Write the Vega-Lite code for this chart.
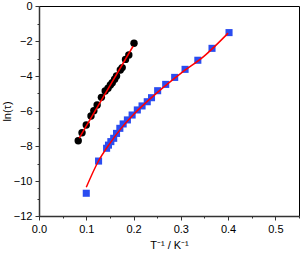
{
  "$schema": "https://vega.github.io/schema/vega-lite/v6.json",
  "autosize": "none",
  "width": 260,
  "height": 210,
  "padding": {"left": 39, "top": 6, "right": 3, "bottom": 39},
  "config": {
    "view": {"stroke": "#000", "strokeWidth": 1},
    "font": "Liberation Sans",
    "axis": {
      "grid": false,
      "domainColor": "#333",
      "domainWidth": 1.5,
      "tickColor": "#333",
      "labelFont": "Liberation Sans",
      "labelFontSize": 11,
      "labelColor": "#000",
      "titleFont": "Liberation Sans",
      "titleFontSize": 11,
      "titleFontWeight": "normal",
      "titleColor": "#000"
    }
  },
  "datasets": {
    "black": [
      {"x": 0.083, "y": -7.7},
      {"x": 0.091, "y": -7.24},
      {"x": 0.100, "y": -6.8},
      {"x": 0.110, "y": -6.29},
      {"x": 0.116, "y": -5.98},
      {"x": 0.123, "y": -5.66},
      {"x": 0.132, "y": -5.22},
      {"x": 0.140, "y": -4.86},
      {"x": 0.146, "y": -4.70},
      {"x": 0.151, "y": -4.51},
      {"x": 0.155, "y": -4.38},
      {"x": 0.160, "y": -4.19},
      {"x": 0.164, "y": -4.0},
      {"x": 0.172, "y": -3.66},
      {"x": 0.176, "y": -3.52},
      {"x": 0.183, "y": -3.05},
      {"x": 0.190, "y": -2.8},
      {"x": 0.201, "y": -2.13}
    ],
    "blue": [
      {"x": 0.100, "y": -10.7},
      {"x": 0.126, "y": -8.86},
      {"x": 0.143, "y": -8.13},
      {"x": 0.147, "y": -7.95},
      {"x": 0.152, "y": -7.75},
      {"x": 0.158, "y": -7.56},
      {"x": 0.164, "y": -7.28},
      {"x": 0.171, "y": -6.99},
      {"x": 0.178, "y": -6.74},
      {"x": 0.187, "y": -6.51},
      {"x": 0.197, "y": -6.23},
      {"x": 0.208, "y": -5.94},
      {"x": 0.218, "y": -5.71},
      {"x": 0.229, "y": -5.47},
      {"x": 0.238, "y": -5.24},
      {"x": 0.251, "y": -4.84},
      {"x": 0.268, "y": -4.48},
      {"x": 0.287, "y": -4.08},
      {"x": 0.309, "y": -3.62},
      {"x": 0.336, "y": -3.10},
      {"x": 0.366, "y": -2.42},
      {"x": 0.402, "y": -1.52}
    ],
    "fitBlack": [
      {"x": 0.085, "y": -7.55},
      {"x": 0.199, "y": -2.3}
    ],
    "fitBlue": [
      {"x": 0.100, "y": -10.36},
      {"x": 0.125, "y": -8.9},
      {"x": 0.150, "y": -7.85},
      {"x": 0.175, "y": -6.95},
      {"x": 0.200, "y": -6.2},
      {"x": 0.250, "y": -4.95},
      {"x": 0.300, "y": -3.85},
      {"x": 0.350, "y": -2.85},
      {"x": 0.400, "y": -1.55}
    ]
  },
  "encoding": {
    "x": {
      "field": "x", "type": "quantitative",
      "scale": {"domain": [0, 0.55], "nice": false, "zero": false},
      "axis": {
        "values": [0, 0.05, 0.1, 0.15, 0.2, 0.25, 0.3, 0.35, 0.4, 0.45, 0.5, 0.55],
        "labelExpr": "abs(datum.value*10 - round(datum.value*10)) < 0.001 ? format(datum.value, '.1f') : ''",
        "tickSize": {"condition": {"test": "abs(datum.value*10 - round(datum.value*10)) < 0.001", "value": 4}, "value": 2},
        "title": "T\u207b\u00b9 / K\u207b\u00b9",
        "titlePadding": 5,
        "labelPadding": 3,
        "labelFlush": false
      }
    },
    "y": {
      "field": "y", "type": "quantitative",
      "scale": {"domain": [-12, 0], "nice": false, "zero": false},
      "axis": {
        "values": [-12, -11, -10, -9, -8, -7, -6, -5, -4, -3, -2, -1, 0],
        "labelExpr": "datum.value % 2 == 0 ? format(datum.value, 'd') : ''",
        "tickSize": {"condition": {"test": "datum.value % 2 == 0", "value": 4}, "value": 2},
        "title": "ln(\u03c4)",
        "titleX": -32,
        "titleY": 105,
        "titleAngle": -90,
        "titleAlign": "center",
        "titleBaseline": "middle",
        "labelPadding": 3,
        "labelFlush": false
      }
    }
  },
  "layer": [
    {
      "data": {"name": "black"},
      "mark": {"type": "point", "shape": "circle", "filled": true, "color": "#000", "size": 55, "opacity": 1}
    },
    {
      "data": {"name": "blue"},
      "mark": {"type": "point", "shape": "square", "filled": true, "color": "#2a4cf0", "size": 50, "opacity": 1}
    },
    {
      "data": {"name": "fitBlack"},
      "mark": {"type": "line", "color": "#ff0000", "strokeWidth": 1.5},
      "encoding": {}
    },
    {
      "data": {"name": "fitBlue"},
      "mark": {"type": "line", "color": "#ff0000", "strokeWidth": 1.5, "interpolate": "monotone"},
      "encoding": {}
    }
  ]
}
